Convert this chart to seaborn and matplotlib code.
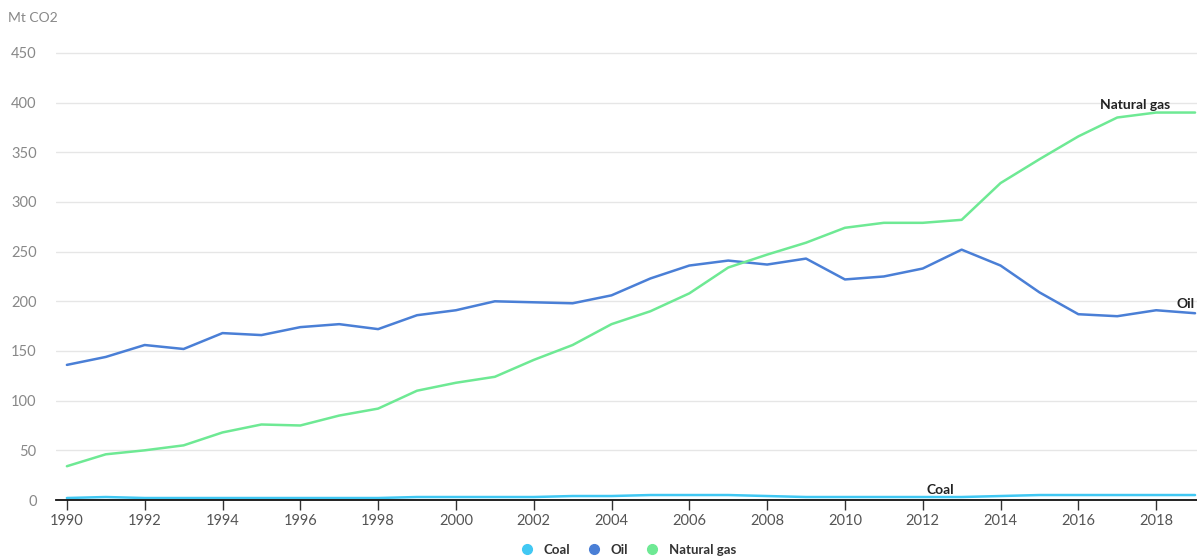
import numpy as np
import pandas as pd
import matplotlib
matplotlib.use("Agg")
import matplotlib.pyplot as plt
from matplotlib.lines import Line2D
import seaborn as sns

years = list(range(1990, 2020))
coal = [2, 3, 2, 2, 2, 2, 2, 2, 2, 3, 3, 3, 3, 4, 4, 5, 5, 5, 4, 3,
        3, 3, 3, 3, 4, 5, 5, 5, 5, 5]
oil = [136, 144, 156, 152, 168, 166, 174, 177, 172, 186, 191, 200, 199, 198, 206,
       223, 236, 241, 237, 243, 222, 225, 233, 252, 236, 209, 187, 185, 191, 188]
natural_gas = [34, 46, 50, 55, 68, 76, 75, 85, 92, 110, 118, 124, 141, 156, 177,
               190, 208, 234, 247, 259, 274, 279, 279, 282, 319, 343, 366, 385, 390, 390]
series_names = ["Coal", "Oil", "Natural gas"]
colors = ["#41c8f3", "#4a7fd6", "#6ee994"]
y_ticks = [0, 50, 100, 150, 200, 250, 300, 350, 400, 450]
x_ticks = list(range(1990, 2019, 2))

df = pd.DataFrame({
    "year": years * 3,
    "value": coal + oil + natural_gas,
    "fuel": [series_names[0]] * len(years) + [series_names[1]] * len(years)
            + [series_names[2]] * len(years),
})

sns.set_theme(style="white")
plt.rcParams["font.family"] = ["Lato", "DejaVu Sans"]

fig = plt.figure(figsize=(11.97, 5.57), dpi=100)
ax = fig.add_axes([56 / 1197, 57 / 557, 1141 / 1197, 457 / 557])

palette = dict(zip(series_names, colors))
sns.lineplot(data=df, x="year", y="value", hue="fuel", palette=palette,
             linewidth=1.8, ax=ax, legend=False)

ax.set_xlim(1989.72, 2019.05)
ax.set_ylim(0, 460)
ax.set_yticks(y_ticks)
ax.set_xticks(x_ticks)
ax.set_xlabel("")
ax.set_ylabel("")

ax.grid(axis="y", color="#e6e6e6", linewidth=1)
ax.grid(axis="x", visible=False)
ax.set_axisbelow(True)
for side in ["top", "right", "left"]:
    ax.spines[side].set_visible(False)
ax.spines["bottom"].set_color("#111111")
ax.spines["bottom"].set_linewidth(1.3)

ax.tick_params(axis="y", length=0, pad=14, labelsize=10.5, labelcolor="#888888")
ax.tick_params(axis="x", length=7, width=1, color="#333333", pad=3,
               labelsize=10.5, labelcolor="#555555", bottom=True)

fig.text(8 / 1197, 1 - 18 / 557, "Mt CO2", fontsize=10, color="#888888",
         va="center", ha="left")

# Series labels next to the lines
ax.text(2017.45, 398, "Natural gas", fontsize=10, fontweight="bold", color="#222222",
        ha="center", va="center")
ax.text(2019.0, 197, "Oil", fontsize=10, fontweight="bold", color="#222222",
        ha="right", va="center")
ax.text(2012.45, 10, "Coal", fontsize=10, fontweight="bold", color="#222222",
        ha="center", va="center")

handles = [Line2D([0], [0], marker="o", linestyle="", markersize=7,
                  markerfacecolor=c, markeredgecolor=c) for c in colors]
leg = fig.legend(handles, series_names, loc="center",
                 bbox_to_anchor=(625 / 1197, 7 / 557), ncol=3, frameon=False,
                 handletextpad=0.25, columnspacing=0.8, fontsize=9.5)
for t in leg.get_texts():
    t.set_fontweight("bold")
    t.set_color("#333333")

fig.savefig("out.png", dpi=100)
